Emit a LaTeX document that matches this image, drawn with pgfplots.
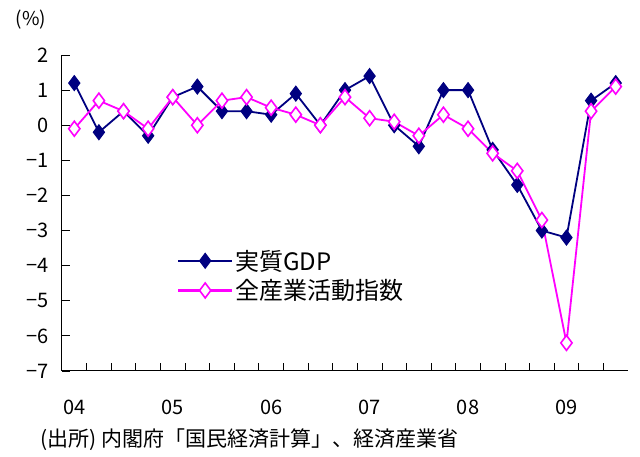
\documentclass[border=0pt]{standalone}
\usepackage{fontspec}
\setmainfont{Noto Sans CJK JP}
\usepackage{pgfplots}
\pgfplotsset{compat=1.18}
\definecolor{gdpnavy}{HTML}{000080}
\definecolor{iipmag}{HTML}{FF00FF}

% quarterly change, 2004Q1 .. 2009Q3
\pgfplotstableread{
q gdp iip
0 1.2 -0.1
1 -0.2 0.7
2 0.4 0.4
3 -0.3 -0.1
4 0.8 0.8
5 1.1 0.0
6 0.4 0.7
7 0.4 0.8
8 0.3 0.5
9 0.9 0.3
10 0.0 0.0
11 1.0 0.8
12 1.4 0.2
13 0.0 0.1
14 -0.6 -0.3
15 1.0 0.3
16 1.0 -0.1
17 -0.7 -0.8
18 -1.7 -1.3
19 -3.0 -2.7
20 -3.2 -6.2
21 0.7 0.4
22 1.2 1.1
}\qdata

\begin{document}
\begin{tikzpicture}
\begin{axis}[
  at={(0pt,0pt)}, anchor=south west,
  scale only axis, width=566pt, height=316pt,
  xmin=-0.5, xmax=22.5, ymin=-7, ymax=2,
  axis x line=bottom, axis y line=left,
  axis line style={-, line width=1pt, black},
  tick align=inside, major tick length=8pt,
  tick style={black, line width=0.8pt},
  ytick={-7,-6,...,2},
  yticklabels={−7,−6,−5,−4,−3,−2,−1,0,1,2},
  yticklabel style={anchor=east, xshift=-10pt},
  xtick={0.5,1.5,...,21.5},
  xticklabels={},
  extra x ticks={0,4,8,12,16,20},
  extra x tick labels={04,05,06,07,08,09},
  extra x tick style={tick style={draw=none}, xticklabel style={anchor=base, yshift=-44pt}},
  tick label style={font=\fontsize{20}{22}\selectfont},
  legend style={at={(0.203,0.39)}, anchor=north west, draw=none, fill=none,
    font=\fontsize{24}{28}\selectfont, row sep=4pt, inner sep=0pt},
  legend cell align=left,
  legend image code/.code={\draw[mark repeat=2,mark phase=2,#1,line width=2.2pt] plot coordinates {(0pt,0pt)(27pt,0pt)(54pt,0pt)};},
]
\addplot[gdpnavy, line width=1.8pt, mark=diamond*, mark size=7.5pt,
  mark options={fill=gdpnavy, line width=1pt}] table[x=q, y=gdp] {\qdata};
\addplot[iipmag, line width=1.8pt, mark=diamond*, mark size=7.5pt,
  mark options={fill=white, line width=1.6pt}] table[x=q, y=iip] {\qdata};
\legend{実質GDP, 全産業活動指数}
\end{axis}
\node[font=\fontsize{19}{21}\selectfont] at (-31pt,351pt) {(\%)};
\node[anchor=base west, inner sep=0pt, font=\fontsize{21}{23}\selectfont] at (-22pt,-76pt) {(出所) 内閣府「国民経済計算」、経済産業省};
\pgfresetboundingbox
\useasboundingbox (-62pt,-86pt) rectangle (578pt,371pt);
\end{tikzpicture}
\end{document}
